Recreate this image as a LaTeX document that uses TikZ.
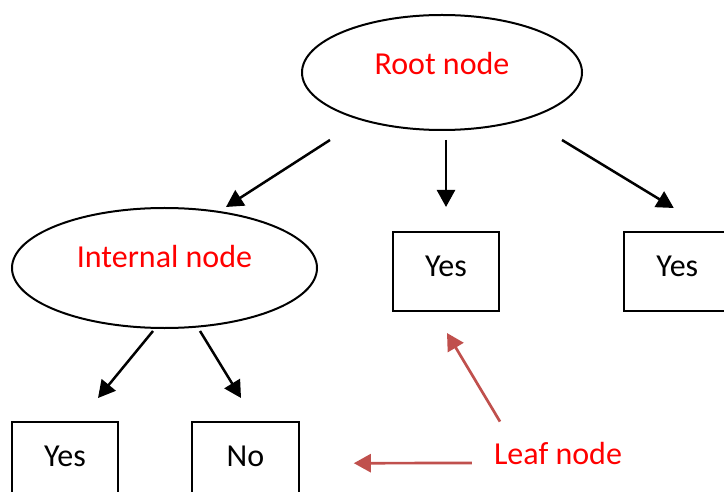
\documentclass[tikz,border=0pt]{standalone}
\usepackage{fontspec}
\setmainfont{Carlito}
\usetikzlibrary{arrows.meta,shapes.geometric}
\definecolor{pointer}{HTML}{C0504D}
\begin{document}
\begin{tikzpicture}[x=1bp,y=-1bp,
  every node/.style={font=\fontsize{32bp}{38bp}\selectfont, inner sep=0pt},
  oval/.style={ellipse, draw, line width=2bp},
  leafbox/.style={rectangle, draw, line width=2bp, minimum width=106.6bp,
    minimum height=78.4bp, text depth=10bp},
  arr/.style={line width=2.5bp, -{Triangle[length=17bp,width=18bp]}},
  hint/.style={pointer, line width=2.7bp, -{Triangle[length=17bp,width=18bp]}}]
  \clip (0,0) rectangle (724,492);

  % tree nodes
  \node[oval, minimum width=280bp, minimum height=115bp, text=red, text depth=19bp]
    (root) at (442,72.5) {Root node};
  \node[oval, minimum width=305bp, minimum height=120bp, text=red, text depth=24bp]
    (internal) at (164.5,268) {Internal node};
  \node[leafbox] (midyes) at (446,271.5) {Yes};
  \node[leafbox] (rightyes) at (677.3,271.5) {Yes};
  \node[leafbox] (lowyes) at (65,461.2) {Yes};
  \node[leafbox] (lowno) at (245.5,461.2) {No};

  % branches
  \draw[arr] ([shift={(-112,9)}]root.south) -- ([shift={(61.5,0)}]internal.north);
  \draw[arr] ([shift={(4,9)}]root.south) -- ([shift={(0,-24.3)}]midyes.north);
  \draw[arr] ([shift={(120,9)}]root.south) -- ([shift={(-3.5,-23.3)}]rightyes.north);
  \draw[arr] ([shift={(-11.5,2)}]internal.south) -- ([shift={(33,-23)}]lowyes.north);
  \draw[arr] ([shift={(35.5,2)}]internal.south) -- ([shift={(-4.5,-23)}]lowno.north);

  % leaf label with pointers
  \node[text=red] (leaf) at (558,454) {Leaf node};
  \draw[hint] ([shift={(-58,-21)}]leaf.north) -- ([shift={(1,21.3)}]midyes.south);
  \draw[hint] ([shift={(-22,9)}]leaf.west) -- ([shift={(54,2)}]lowno.east);
\end{tikzpicture}
\end{document}
